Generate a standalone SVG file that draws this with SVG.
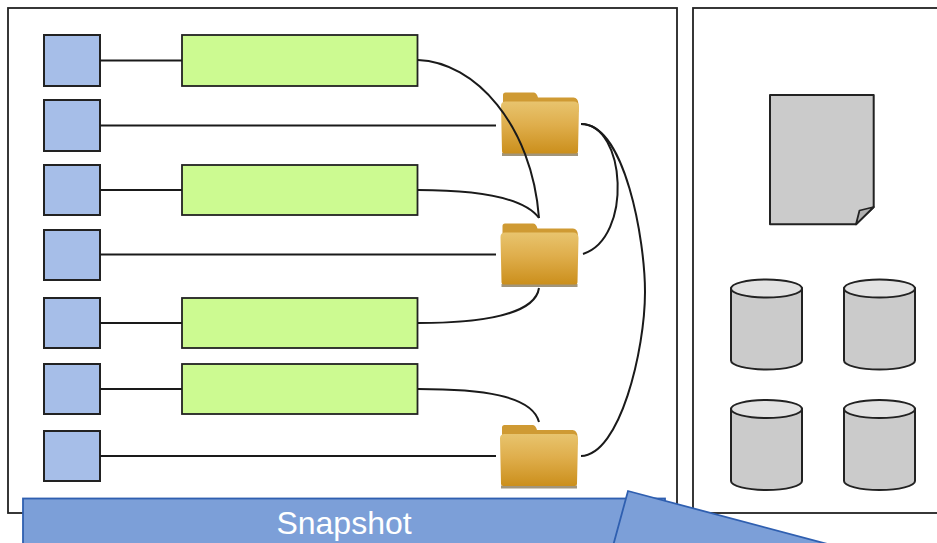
<svg xmlns="http://www.w3.org/2000/svg" width="937" height="543" viewBox="0 0 937 543">
<style>
.panel{fill:#fff;stroke:#222;stroke-width:1.8}
.sq{fill:#a6bee8;stroke:#222;stroke-width:2}
.gr{fill:#ccfa91;stroke:#222;stroke-width:1.8}
.c{fill:none;stroke:#1a1a1a;stroke-width:2}
.shape{fill:#cbcbcb;stroke:#222;stroke-width:2;stroke-linejoin:round}
.top{fill:#e2e2e2;stroke:#222;stroke-width:2}
.bar{fill:#7c9fd8;stroke:#2f5fb0;stroke-width:1.8}
</style>
<defs>
<linearGradient id="fg" x1="0" y1="0" x2="0" y2="1"><stop offset="0" stop-color="#e8c46e"/><stop offset="0.45" stop-color="#dfae4c"/><stop offset="1" stop-color="#cb8f1c"/></linearGradient>
<g id="folder">
<rect x="1.500" y="61" width="76" height="3" fill="#8a7a5a" opacity="0.8"/>
<path d="M2.500 12V3Q2.500 0.500 5 0.500H33Q36 0.500 37.500 5.500H73Q77.500 5.500 78 12V20H2.500Z" fill="#cf9a33"/>
<path d="M0.500 14Q0.500 9.500 5 9.500H73Q78.500 9.500 78.500 15L77.500 59Q77.500 61.500 75 61.500H4Q1.500 61.500 1.500 59Z" fill="url(#fg)"/>
</g>
<g id="cyl">
<path class="shape" d="M0 8.500V81C0 86 16 90 35.500 90S71 86 71 81V8.500Z"/>
<ellipse class="top" cx="35.500" cy="9" rx="35.500" ry="9"/>
</g>
</defs>
<g id="panels">
<rect id="panel-left" class="panel" x="8" y="8" width="669" height="505"/>
<rect id="panel-right" class="panel" x="693" y="8" width="250" height="505"/>
</g>
<g id="sources">
<rect id="s1" class="sq" x="44" y="35" width="56" height="51"/>
<rect id="s2" class="sq" x="44" y="100" width="56" height="51"/>
<rect id="s3" class="sq" x="44" y="165" width="56" height="50"/>
<rect id="s4" class="sq" x="44" y="230" width="56" height="50"/>
<rect id="s5" class="sq" x="44" y="298" width="56" height="50"/>
<rect id="s6" class="sq" x="44" y="364" width="56" height="50"/>
<rect id="s7" class="sq" x="44" y="431" width="56" height="50"/>
</g>
<g id="bars">
<rect id="b1" class="gr" x="182" y="35" width="235.500" height="51"/>
<rect id="b2" class="gr" x="182" y="165" width="235.500" height="50"/>
<rect id="b3" class="gr" x="182" y="298" width="235.500" height="50"/>
<rect id="b4" class="gr" x="182" y="364" width="235.500" height="50"/>
</g>
<use id="folder1" href="#folder" x="500.500" y="92"/>
<use id="folder2" href="#folder" x="500" y="223"/>
<use id="folder3" href="#folder" x="499.500" y="424.500"/>
<g id="connectors">
<path class="c" d="M100 60.500H182M100 125.500H496M100 190H182M100 254.500H496M100 323H182M100 389H182M100 456H496"/>
<path class="c" d="M418 60C475 62 532 125 539 218"/>
<path class="c" d="M418 190C470 190 522 195 539 218"/>
<path class="c" d="M418 323C480 323 535 315 539 288"/>
<path class="c" d="M418 389C480 389 532 395 539 422"/>
<path class="c" d="M581 124C626 124 633 238 583 254"/>
<path class="c" d="M581 124C625 124 645 240 645 292C645 350 620 455 581 456"/>
</g>
<g id="document">
<path class="shape" d="M770 95H873.700V207L856 224.300H770Z"/>
<path d="M856 224.300L859.500 210.500L873.700 207Z" fill="#b0b0b0" stroke="#222" stroke-width="1.800" stroke-linejoin="round"/>
</g>
<use id="db1" href="#cyl" x="731" y="279.500"/>
<use id="db2" href="#cyl" x="844" y="279.500"/>
<use id="db3" href="#cyl" x="731" y="400"/>
<use id="db4" href="#cyl" x="844" y="400"/>
<g id="snapshot">
<rect class="bar" x="23" y="498.500" width="642" height="60"/>
<text x="344" y="534" text-anchor="middle" font-family="Liberation Sans, Arial, sans-serif" font-size="32" fill="#fff">Snapshot</text>
<path class="bar" d="M628 491L835 546H613Z"/>
</g>
</svg>
